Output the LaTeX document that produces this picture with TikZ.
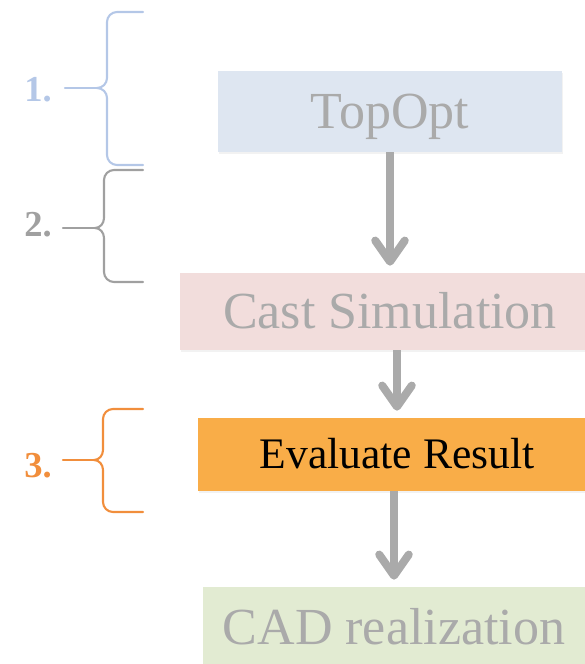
\documentclass[tikz,border=0pt]{standalone}
\usepackage{fontspec}
\setmainfont{Liberation Serif}
\usetikzlibrary{arrows.meta,shadows}
\definecolor{optblue}{RGB}{222,230,241}
\definecolor{simrose}{RGB}{242,221,220}
\definecolor{evalorange}{RGB}{249,173,72}
\definecolor{cadgreen}{RGB}{226,235,210}
\definecolor{fadegray}{RGB}{170,170,170}
\definecolor{braceblue}{RGB}{180,199,231}
\definecolor{bracegray}{RGB}{160,160,160}
\definecolor{braceorange}{RGB}{241,142,60}
\begin{document}
\begin{tikzpicture}[x=0.025cm,y=-0.025cm,
    stepbox/.style={rectangle,inner sep=0pt,text height=24.5pt,text depth=0pt,
      font=\fontsize{37}{40}\selectfont,text=fadegray,
      drop shadow={opacity=0.10,shadow xshift=0.6pt,shadow yshift=-1.5pt}},
    flow/.style={draw=fadegray,line width=5.7pt,
      -{Straight Barb[round,length=15pt,width=21pt]},shorten >=5pt},
    bracket/.style={line width=1.5pt,line cap=round},
    steplabel/.style={font=\fontsize{26}{28}\selectfont\bfseries}]
  \useasboundingbox (0,0) rectangle (585,664);
  \clip (0,0) rectangle (585,664);
  % process boxes
  \node[stepbox,fill=optblue,minimum width=8.6cm,minimum height=2.025cm] (topopt) at (390,111.5) {TopOpt};
  \node[stepbox,fill=simrose,minimum width=10.5cm,minimum height=1.925cm] (castsim) at (390,311.5) {Cast Simulation};
  \node[stepbox,fill=evalorange,text=black,font=\fontsize{31}{34}\selectfont,text height=20.5pt,
    minimum width=9.95cm,minimum height=1.825cm] (evalres) at (397,454.5) {Evaluate Result};
  \node[stepbox,fill=cadgreen,minimum width=9.55cm,minimum height=2cm] (cadreal) at (394,627) {CAD realization};
  % arrows
  \draw[flow] (topopt.south) -- (topopt.south |- castsim.north);
  \draw[flow] (evalres.north |- castsim.south) -- (evalres.north);
  \draw[flow] (cadreal.north |- evalres.south) -- (cadreal.north);
  % brace 1
  \draw[bracket,braceblue] (143,12) -- (117,12) to[out=180,in=90] (107,22) -- (107,78)
    to[out=-90,in=0] (97,88) to[out=0,in=90] (107,98) -- (107,155)
    to[out=-90,in=180] (117,165) -- (143,165);
  \coordinate (tipa) at (97,88);
  \node[steplabel,text=braceblue] (labela) at (38,90) {1.};
  \draw[bracket,braceblue] (tipa) -- (65,88);
  % brace 2
  \draw[bracket,bracegray] (143,170) -- (114,170) to[out=180,in=90] (104,180) -- (104,218)
    to[out=-90,in=0] (95,228) to[out=0,in=90] (104,238) -- (104,272)
    to[out=-90,in=180] (114,282) -- (143,282);
  \coordinate (tipb) at (95,228);
  \node[steplabel,text=bracegray] (labelb) at (38,225) {2.};
  \draw[bracket,bracegray] (tipb) -- (63,228);
  % brace 3
  \draw[bracket,braceorange] (143,409) -- (113,409) to[out=180,in=90] (103,419) -- (103,450)
    to[out=-90,in=0] (94,460) to[out=0,in=90] (103,470) -- (103,502)
    to[out=-90,in=180] (113,512) -- (143,512);
  \coordinate (tipc) at (94,460);
  \node[steplabel,text=braceorange] (labelc) at (38,466) {3.};
  \draw[bracket,braceorange] (tipc) -- (63,460);
\end{tikzpicture}
\end{document}
